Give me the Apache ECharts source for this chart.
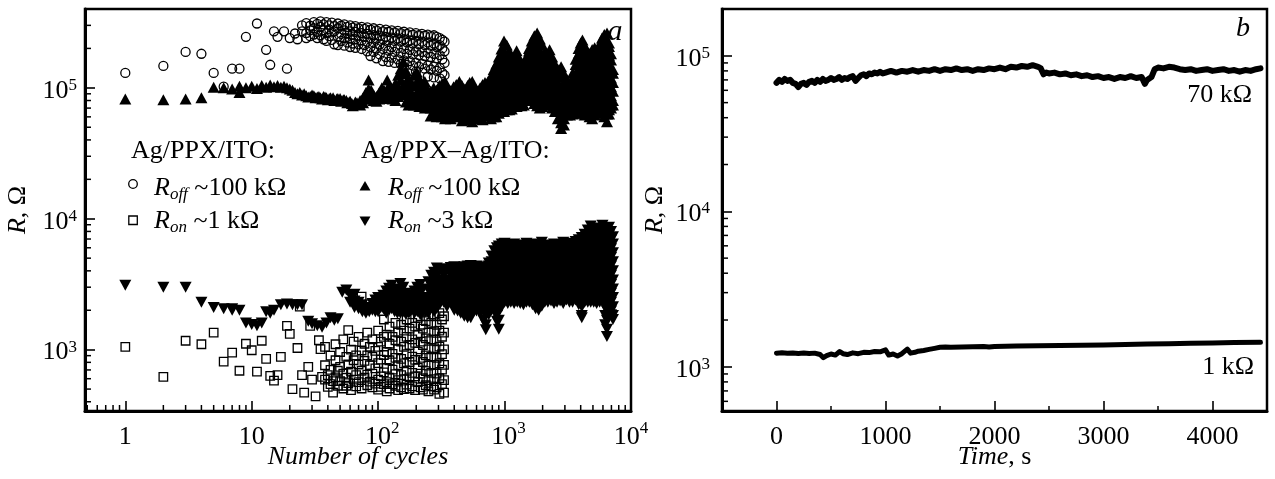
<!DOCTYPE html>
<html><head><meta charset="utf-8">
<script src="https://cdn.jsdelivr.net/npm/echarts@6/dist/echarts.min.js"></script>
<style>html,body{margin:0;padding:0;background:#fff}#c{width:1275px;height:479px}</style>
</head><body><div id="c"></div>
<script>
// ---------------- DATA (panel a) ----------------
// Ag/PPX/ITO R_off (kOhm): single points then columns [N, R1, R2, ...]
const offA_pts = [[1,130],[2,147],[3,188],[4,182],[5,130],[6,102],[7,140],[8,140],[9,245],[11,310],[13,195],[14,150],[15,270],[16,245],[18,270],[19,140],[20,240],[22,260],[23,235]];
const offA_cols = [
 [25,300,270],[27,312,262,240],[29,298,275,248],[31,318,285,255],[33,308,268,240],[35,322,292,252],
 [37,305,275,235],[39,318,262,228],[41,300,280,248],[43,315,265,232],[45,296,270,215],[48,310,285,245,212],
 [51,298,258,228],[54,305,275,240,210],[57,292,262,222],[60,300,270,238,205],[63,288,255,218],[66,296,268,235,202],
 [70,285,250,215],[74,292,262,230,198],[78,282,245,212],[82,290,258,225,190],[87,278,240,205,175],[92,285,252,222,188],
 [97,275,238,200,168],[103,282,250,215,180],[109,270,235,198,160],[115,278,245,210,172],[121,268,230,192,158],
 [128,275,242,205,170],[135,265,228,188,155],[143,272,238,200,165],[151,262,225,185,152],[160,268,235,198,162],
 [169,258,222,182,150],[178,265,230,195,160,100],[188,255,218,180,148],[199,262,228,190,155,133],[210,252,215,178,145],
 [222,258,225,188,152],[234,250,212,175,140],[247,255,222,185,148,122],[261,248,210,172,138],[276,252,218,182,145,120],
 [291,245,205,168,135],[307,240,212,178,142,118],[322,232,200,165,130],[335,225,190,155,125]
];
// Ag/PPX/ITO R_on (Ohm)
const onA_pts = [[1,1050],[2,620],[3,1170],[4,1100],[5,1350],[6,810],[7,950],[8,690],[9,1110],[10,990],[11,680],[12,1170],[13,850],[14,630],[15,580],[16,640],[17,880],[19,1520],[20,1320],[21,500],[23,1030],[24,2130],[25,640],[26,470],[28,740],[29,1520],[30,590],[32,440],[34,1180],[35,1010],[36,620]];
const onA_cols = [
 [38,1050,760,590],[40,640,520],[42,900,700,545],[44,575,470],[46,1100,830,615],[48,690,530],[50,960,740,575],
 [53,1200,655,505],[56,880,610,530],[58,1410,770,555],[61,1000,680,490],[64,1150,830,590],[67,905,640,525],
 [70,1250,770,565],[74,2540,985,690,505],[78,1110,820,610],[82,1350,905,645,535],[86,1050,760,570],
 [90,1200,880,655,515],[95,980,720,550],[100,1400,1050,790,590,495],[105,1150,840,625,520],[111,1700,1250,910,670,545],
 [117,1300,960,725,565,480],[123,1500,1110,830,610,505],[130,1250,930,705,545],[137,1600,1180,865,650,530],
 [144,1350,1005,760,585,490],[152,1550,1150,850,640,515],[160,1400,1050,785,595,500],[168,1700,1250,925,690,540],
 [177,1450,1085,805,615,505],[186,2200,1600,1200,885,665,525],[196,1500,1125,835,625,490],[206,1750,1300,965,725,565],
 [217,1550,1150,865,655,515],[226,1950,1450,1085,805,605,495],[238,1650,1220,905,685,535],[250,1800,1350,1005,755,585,480],
 [263,1600,1200,885,665,525],[277,1850,1380,1025,765,595,495],[290,1550,1155,865,655,515],[305,1900,1400,1055,785,605,460],
 [320,1700,1255,925,705,545],[332,1800,1350,1005,765,585,470]
];
// Ag/PPX-Ag/ITO R_off (kOhm)
const offB_pts = [[1,82],[2,81],[3,82],[4,84],[5,101],[6,100],[7,98],[8,92],[8,103],[9,100],[10,103],[11,99],[12,104],[13,101],[14,105],[15,102],[16,104],[17,101],[18,103],[19,100],[20,98],[21,96],[22,92],[23,90],[24,92],[25,88],[26,90],[27,87],[28,85],[29,86],[30,88],[31,87],[32,84],[33,85],[34,86],[35,84],[36,82],[37,86],[38,85],[39,84],[40,81],[41,83],[42,84],[44,84],[45,80],[47,82],[48,83],[50,83],[51,79],[53,81],[54,81],[56,80],[57,77],[59,78],[60,79],[62,76],[63,73],[65,75],[66,78],[68,77]];
const offB_cols = [
 [72,80,74],[76,84,77],[80,92,82],[84,115,98,84],[88,96,82],[92,88,80],[97,86,79],[102,92,82],[107,100,86],
 [112,95,83],[118,115,98,84],[124,102,86],[130,94,82],[137,108,90,80],[144,125,102,86],[151,140,115,95],
 [158,158,128,104,88],[166,135,110,92,78],[174,118,98,82,74],[183,108,92,78],[192,125,104,86,74],
 [202,132,110,92,78],[212,118,98,82,72],[223,105,90,76],[234,112,95,80,70],[246,98,84,72],
 [260,94,82,70,61],[275,100,89,76,65],[290,96,82,70,60],[305,104,89,76,65],[320,108,96,82,70,60],
 [338,112,104,89,76,65,58],[355,100,96,82,70,62],[375,95,89,76,65,58],[395,102,96,82,70,60],[415,106,104,89,76,65],
 [439,112,96,82,70,60],[460,104,89,76,65,56],[485,98,96,82,70,61],[510,104,89,76,65,57],[530,110,96,82,70,60],
 [555,112,104,89,76,65,55],[580,100,96,82,70,60],[610,94,89,76,65,58],[640,100,96,82,70,60],[670,106,104,89,76,65,57],
 [700,110,96,82,70,61],
 [740,112,102,87,74,62],[780,122,110,94,80,68,58],[820,138,119,102,87,74,60],[860,152,129,110,94,80,68,60],
 [900,172,163,139,119,102,87,74,64],[945,198,177,151,129,110,94,80,68],[990,228,191,163,139,119,102,87,74,66],
 [1040,212,177,151,129,110,94,80,68],[1090,190,163,139,119,102,87,74,68],[1140,172,151,129,110,94,80,69],
 [1190,165,139,119,102,87,74],[1245,192,177,151,129,110,94,80,72],[1300,170,139,119,102,87,74],
 [1360,155,129,110,94,80,73],[1420,150,139,119,102,87,74],[1490,172,151,129,110,94,80],
 [1560,200,191,163,139,119,102,87,80],[1640,228,207,177,151,129,110,94,80],[1720,250,224,191,163,139,119,102,87,76],
 [1810,262,242,207,177,151,129,110,94,80,73],[1900,236,224,191,163,139,119,102,87,74,70],[1990,212,177,151,129,110,94,80,72],
 [2090,188,163,139,119,102,87,74],[2180,180,151,129,110,94,80,74],[2270,195,163,139,119,102,87,75],
 [2380,172,151,129,110,94,80,70],[2500,152,139,119,102,87,74,66],[2640,138,129,110,94,80,68,58],
 [2800,145,121,102,87,74,63,54,49],[2950,128,110,94,80,68,58,52],[3110,116,102,87,74,62],[3290,106,94,80,68,62],
 [3460,130,119,102,87,74,63],[3650,165,151,129,110,94,80,68],[3850,200,182,163,139,119,102,87,74,66],
 [4000,220,207,177,151,129,110,94,80,68,64],[4130,232,191,163,139,119,102,87,74,64],[4300,210,177,151,129,110,94,80,68,62],
 [4500,190,163,139,119,102,87,74,63],[4700,182,166,151,129,110,94,80,68,60],[4930,196,178,163,139,119,102,87,74,63,58],
 [5160,202,177,151,129,110,94,80,68,62],[5400,186,163,139,119,102,87,74,64],[5650,215,195,177,151,129,110,94,80,68],
 [5900,240,224,191,163,139,119,102,87,74,64],[6150,255,242,207,177,151,129,110,94,80,68,60],
 [6460,262,224,191,163,139,119,102,87,74,63,55],[6700,220,207,177,151,129,110,94,80,68,63],
 [6950,182,163,139,119,102,87,74,70],[7200,138,129,110,94,80,74]
];
// Ag/PPX-Ag/ITO R_on (Ohm)
const onB_pts = [[1,3100],[2,3000],[3,3000],[4,2300],[5,2100],[6,2050],[7,2000],[7,2050],[8,2000],[9,1600],[10,1560],[11,1520],[12,1600],[13,1950],[14,1900],[15,2000],[17,2200],[19,2230],[21,2200],[23,2200],[25,2200],[28,1650],[30,1580],[33,1520],[36,1480],[39,1600],[42,1750],[45,1680],[48,1720],[52,2750],[56,2850]];
const onB_cols = [
 [60,2600,2300],[65,2650,2350,2100],[70,2300,2050],[75,2200,1950],[80,2050,1900],[85,2100,1950],[90,2250,2000],
 [95,2400,2150,1950],[100,2500,2200,1950],[105,2350,2100],[110,2600,2300,2050],[116,2800,2450,2150,1900],
 [122,2950,2600,2250,2000],[128,3100,2700,2350,2050],[135,2900,2550,2200,1950],[142,2800,2450,2150,1900],
 [150,3200,2800,2450,2150,1900],[158,3000,2600,2250,1950],[166,2700,2350,2050,1850],[175,2450,2150,1900],
 [184,2600,2300,2000],[194,2800,2450,2150,1900],[204,3000,2600,2250,1950],[215,3150,2750,2400,2100,1850],
 [226,2900,2500,2200,1950],[238,2500,2200,1950],[250,3300,2850,2450,2150,1900],[263,3700,3200,2750,2400,2100],
 [277,3900,3400,2950,2550,2200,1950],[291,4200,3650,3150,2750,2350,2050],
 [310,4150,3400,2900,2500,2250],[330,4000,3700,3150,2700,2300],[350,4100,3400,2900,2500,2130],
 [375,4250,3700,3150,2700,2300],[400,4300,4000,3400,2900,2500,2130,2000],[425,4150,3700,3150,2700,2300,1970],
 [450,4200,4000,3400,2900,2500,2130,1900],[480,4300,3700,3150,2700,2300,1970,1800],[510,4350,4000,3400,2900,2500,2130,1820,1750],
 [540,4400,3700,3150,2700,2300,1970,1750],[570,4250,4000,3400,2900,2500,2130,1950],[600,4350,3700,3150,2700,2300,1970],
 [640,4200,4000,3400,2900,2500,2130,1900],[680,4100,3700,3150,2700,2300,1970,1680],[710,4300,4000,3400,2900,2500,2130,1820,1550,1420],
 [750,4600,4350,3700,3150,2700,2300,1970,1850],[790,5200,4700,4000,3400,2900,2500,2130,2000],
 [830,5700,5050,4350,3700,3150,2700,2300,1970],[870,6000,5500,4700,4000,3400,2900,2500,2130,1820,1650],
 [900,6200,5900,5050,4350,3700,3150,2700,2300,1970,1680,1430],[950,6400,5500,4700,4000,3400,2900,2500,2130],
 [1000,6500,5900,5050,4350,3700,3150,2700,2300],[1060,6300,5500,4700,4000,3400,2900,2500,2250],
 [1120,6100,5900,5050,4350,3700,3150,2700,2300],[1190,6400,5500,4700,4000,3400,2900,2500,2250],
 [1260,6200,5900,5050,4350,3700,3150,2700,2300],[1330,6000,5500,4700,4000,3400,2900,2500,2250],
 [1410,6300,5900,5050,4350,3700,3150,2700,2300,2200],[1490,6500,5500,4700,4000,3400,2900,2500,2300],
 [1570,6200,5900,5050,4350,3700,3150,2700,2300],[1660,6400,5500,4700,4000,3400,2900,2500,2200],
 [1760,6100,5900,5050,4350,3700,3150,2700,2300,2050],[1860,6300,5500,4700,4000,3400,2900,2500,2130,2000],
 [1970,6600,5900,5050,4350,3700,3150,2700,2300,2150],[2080,6300,5500,4700,4000,3400,2900,2500,2300],
 [2200,6000,5050,4350,3700,3150,2700,2300],[2330,6200,5500,4700,4000,3400,2900,2500,2350],
 [2460,6400,5900,5050,4350,3700,3150,2700,2300,2250],[2600,6100,5500,4700,4000,3400,2900,2500,2300],
 [2750,6300,5900,5050,4350,3700,3150,2700,2350],[2910,6600,5500,4700,4000,3400,2900,2500,2250],
 [3080,6400,5900,5050,4350,3700,3150,2700,2400],[3260,6200,5500,4700,4000,3400,2900,2500,2300],
 [3450,6500,5900,5050,4350,3700,3150,2700,2300],[3650,6700,6400,5500,4700,4000,3400,2900,2500,2400],
 [3860,6900,5900,5050,4350,3700,3150,2700,2300,2200],[4080,7200,6400,5500,4700,4000,3400,2900,2500,2130,1820,1750],
 [4300,7600,6900,5900,5050,4350,3700,3150,2700,2300],[4550,8200,7500,6400,5500,4700,4000,3400,2900,2500,2300],
 [4800,8800,8100,6900,5900,5050,4350,3700,3150,2700,2300],[5070,8400,7500,6400,5500,4700,4000,3400,2900,2500,2300],
 [5350,7800,6900,5900,5050,4350,3700,3150,2700,2300,2250],[5650,8500,7500,6400,5500,4700,4000,3400,2900,2500,2300],
 [5950,8900,8100,6900,5900,5050,4350,3700,3150,2700,2300],[6250,8300,7500,6400,5500,4700,4000,3400,2900,2500,2130,1820,1550],
 [6450,7900,6900,5900,5050,4350,3700,3150,2700,2300,1970,1680,1430,1260],[6700,8600,7500,6400,5500,4700,4000,3400,2900,2500,2130],
 [6950,8000,6900,5900,5050,4350,3700,3150,2700,2300,1970,1850],[7200,7300,6400,5500,4700,4000,3400,2900,2500,2130,1820,1700]
];
// ---------------- DATA (panel b) ----------------
const timeHi = [0,25,50,75,100,125,150,175,200,225,250,275,300,325,350,375,400,425,450,475,500,525,550,575,600,625,650,675,700,725,750,775,800,825,850,875,900,925,950,975,1000,1050,1100,1150,1200,1250,1300,1350,1400,1450,1500,1550,1600,1650,1700,1750,1800,1850,1900,1950,2000,2050,2100,2150,2200,2250,2300,2350,2400,2425,2450,2475,2500,2550,2600,2650,2700,2750,2800,2850,2900,2950,3000,3050,3100,3150,3200,3250,3300,3350,3380,3400,3440,3470,3500,3550,3600,3650,3700,3750,3800,3850,3900,3950,4000,4050,4100,4150,4200,4250,4300,4350,4400,4440];
const rHi_kOhm = [67,70,68,71,69,70,67,66,63,66,67,65,68,69,67,70,68,71,69,70,72,70,71,73,70,72,71,73,74,69,72,75,76,74,77,76,78,77,79,77,78,80,78,80,79,81,79,81,80,82,80,82,81,83,81,82,80,82,81,83,82,84,82,85,84,86,85,87,85,83,76,78,77,78,76,77,75,76,74,75,73,74,72,73,71,73,72,74,72,73,66,70,73,82,84,83,85,84,82,81,82,80,81,82,80,81,82,80,81,79,81,80,82,83];
const timeLo = [0,50,100,150,200,250,300,350,400,430,460,500,540,580,610,650,700,750,800,850,900,950,1000,1030,1070,1110,1150,1200,1230,1270,1300,1350,1400,1450,1500,1550,1600,1700,1800,1900,1950,2000,2100,2200,2400,2600,2800,3000,3200,3400,3600,3800,4000,4200,4440];
const rLo_Ohm = [1225,1230,1222,1228,1220,1226,1218,1225,1200,1145,1180,1210,1190,1255,1215,1200,1230,1215,1240,1235,1255,1250,1285,1190,1210,1175,1215,1300,1225,1240,1260,1275,1295,1315,1335,1340,1338,1342,1346,1350,1340,1352,1355,1360,1364,1370,1375,1382,1390,1402,1410,1418,1425,1432,1440];
// ---------------- TICKS ----------------
const xMinorA = [0.5,0.6,0.7,0.8,0.9,2,3,4,5,6,7,8,9,20,30,40,50,60,70,80,90,200,300,400,500,600,700,800,900,2000,3000,4000,5000,6000,7000,8000,9000];
const yMinorA = [400,500,600,700,800,900,2000,3000,4000,5000,6000,7000,8000,9000,20000,30000,40000,50000,60000,70000,80000,90000,200000,300000];
const xMinorB = [500,1500,2500,3500];
const yMinorB = [600,700,800,900,2000,3000,4000,5000,6000,7000,8000,9000,20000,30000,40000,50000,60000,70000,80000,90000];

// ---------------- BUILD ----------------
const F = '"Liberation Serif","Times New Roman",serif';
function build(pts, cols, unit) {
  const out = pts.map(p => [p[0], p[1] * unit]);
  cols.forEach(c => { for (let i = 1; i < c.length; i++) out.push([c[0], c[i] * unit]); });
  return out;
}
const dOffA = build(offA_pts, offA_cols, 1000);
const dOnA = build(onA_pts, onA_cols, 1);
const dOffB = build(offB_pts, offB_cols, 1000);
const dOnB = build(onB_pts, onB_cols, 1);
const dHi = timeHi.map((t, i) => [t, rHi_kOhm[i] * 1000]);
const dLo = timeLo.map((t, i) => [t, rLo_Ohm[i]]);

const richX = {
  m: {fontFamily: F, fontSize: 26, lineHeight: 34, color: '#000'},
  s: {fontFamily: F, fontSize: 17, lineHeight: 17, verticalAlign: 'top', color: '#000'},
  p: {width: 8, fontSize: 17}
};
const richY = {
  m: {fontFamily: F, fontSize: 26, lineHeight: 34, padding: [6, 0, 0, 0], color: '#000'},
  s: {fontFamily: F, fontSize: 17, lineHeight: 17, padding: [6, 0, 0, 0], verticalAlign: 'top', color: '#000'}
};
function logLabelX(v) {
  const e = Math.round(Math.log10(v));
  if (e === 0) return '{m|1}';
  if (e === 1) return '{m|10}';
  if (e === 4) return '{m|10}{s|' + e + '}';
  return '{p| }{m|10}{s|' + e + '}';
}
function logLabelY(v) {
  const e = Math.round(Math.log10(v));
  return '{m|10}{s|' + e + '}';
}
const nameRich = {
  i: {fontFamily: F, fontSize: 26, fontStyle: 'italic', color: '#000'},
  n: {fontFamily: F, fontSize: 26, color: '#000'}
};
function axisBase() {
  return {
    axisLine: {show: true, onZero: false, lineStyle: {color: '#000', width: 3}},
    axisTick: {show: true, inside: true, length: 10, lineStyle: {color: '#000', width: 1.6}},
    splitLine: {show: false},
    minorTick: {show: false},
    minorSplitLine: {show: false},
    nameMoveOverlap: false
  };
}
function minorTicks(gi, vals, dir, edge, len) {
  return {
    type: 'custom', xAxisIndex: gi, yAxisIndex: gi, silent: true, z: 5, clip: false,
    data: vals.map(v => dir === 'x' ? [v, edge] : [edge, v]),
    renderItem: (params, api) => {
      const p = api.coord([api.value(0), api.value(1)]);
      const shape = dir === 'x' ? {x1: p[0], y1: p[1], x2: p[0], y2: p[1] - len}
                                : {x1: p[0], y1: p[1], x2: p[0] + len, y2: p[1]};
      return {type: 'line', shape: shape, style: {stroke: '#000', lineWidth: 1.5}};
    }
  };
}
function legendText(x, y, sub, rest) {
  return {type: 'text', x: x, y: y, style: {text: '{i|R}{s|' + sub + '}{n|' + rest + '}', align: 'left', verticalAlign: 'middle', rich: {
    i: {fontFamily: F, fontSize: 26, fontStyle: 'italic', lineHeight: 30, fill: '#000'},
    s: {fontFamily: F, fontSize: 17, fontStyle: 'italic', lineHeight: 17, verticalAlign: 'bottom', fill: '#000'},
    n: {fontFamily: F, fontSize: 26, lineHeight: 30, fill: '#000'}}}};
}

const chart = echarts.init(document.getElementById('c'), null, {renderer: 'canvas'});
const hollow = {color: 'rgba(0,0,0,0)', borderColor: '#000', borderWidth: 1.3, opacity: 1};
const solid = {color: '#000', opacity: 1};
chart.setOption({
  animation: false,
  backgroundColor: '#fff',
  grid: [
    {left: 85, top: 9, width: 546, height: 402, show: true, borderColor: '#000', borderWidth: 2.5, backgroundColor: 'transparent', containLabel: false},
    {left: 722, top: 9, width: 545, height: 402, show: true, borderColor: '#000', borderWidth: 2.5, backgroundColor: 'transparent', containLabel: false}
  ],
  xAxis: [
    Object.assign(axisBase(), {
      gridIndex: 0, type: 'log', logBase: 10, min: 0.48, max: 10000,
      axisLabel: {formatter: logLabelX, rich: richX, margin: 9, showMinLabel: false, showMaxLabel: true},
      name: 'Number of cycles', nameLocation: 'middle', nameGap: 33,
      nameTextStyle: {fontFamily: F, fontSize: 26, fontStyle: 'italic', color: '#000'}
    }),
    Object.assign(axisBase(), {
      gridIndex: 1, type: 'value', min: -500, max: 4500, splitNumber: 5,
      axisLabel: {formatter: v => '{m|' + v + '}', rich: richX, margin: 9, showMinLabel: false, showMaxLabel: false},
      name: '{i|Time}{n|, s}', nameLocation: 'middle', nameGap: 33,
      nameTextStyle: {rich: nameRich}
    })
  ],
  yAxis: [
    Object.assign(axisBase(), {
      gridIndex: 0, type: 'log', logBase: 10, min: 340, max: 400000,
      axisLabel: {formatter: logLabelY, rich: richY, margin: 8, showMinLabel: false, showMaxLabel: false},
      name: '{i|R}{n|, Ω}', nameLocation: 'middle', nameGap: 54,
      nameTextStyle: {rich: nameRich}
    }),
    Object.assign(axisBase(), {
      gridIndex: 1, type: 'log', logBase: 10, min: 520, max: 200000,
      axisLabel: {formatter: logLabelY, rich: richY, margin: 12, showMinLabel: false, showMaxLabel: false},
      name: '{i|R}{n|, Ω}', nameLocation: 'middle', nameGap: 54,
      nameTextStyle: {rich: nameRich}
    })
  ],
  series: [
    {type: 'scatter', xAxisIndex: 0, yAxisIndex: 0, data: dOffB, symbol: 'triangle', symbolSize: [12, 11], itemStyle: solid, silent: true},
    {type: 'scatter', xAxisIndex: 0, yAxisIndex: 0, data: dOnB, symbol: 'triangle', symbolRotate: 180, symbolSize: [12, 11], itemStyle: solid, silent: true},
    {type: 'scatter', xAxisIndex: 0, yAxisIndex: 0, data: dOffA, symbol: 'circle', symbolSize: 9, itemStyle: hollow, silent: true},
    {type: 'scatter', xAxisIndex: 0, yAxisIndex: 0, data: dOnA, symbol: 'rect', symbolSize: 8.5, itemStyle: hollow, silent: true},
    {type: 'line', xAxisIndex: 1, yAxisIndex: 1, data: dHi, showSymbol: false, symbol: 'none', lineStyle: {color: '#000', width: 6, join: 'round', cap: 'round'}, silent: true},
    {type: 'line', xAxisIndex: 1, yAxisIndex: 1, data: dLo, showSymbol: false, symbol: 'none', lineStyle: {color: '#000', width: 5, join: 'round', cap: 'round'}, silent: true},
    minorTicks(0, xMinorA, 'x', 340, 6),
    minorTicks(0, yMinorA, 'y', 0.48, 6),
    minorTicks(1, xMinorB, 'x', 520, 5),
    minorTicks(1, yMinorB, 'y', -500, 6)
  ],
  graphic: [
    {type: 'text', x: 615, y: 32, style: {text: 'a', fontFamily: F, fontSize: 30, fontStyle: 'italic', fill: '#000', align: 'center', verticalAlign: 'middle'}},
    {type: 'text', x: 1243, y: 29, style: {text: 'b', fontFamily: F, fontSize: 28, fontStyle: 'italic', fill: '#000', align: 'center', verticalAlign: 'middle'}},
    {type: 'text', x: 1252, y: 95, style: {text: '70 kΩ', fontFamily: F, fontSize: 26, fill: '#000', align: 'right', verticalAlign: 'middle'}},
    {type: 'text', x: 1254, y: 367, style: {text: '1 kΩ', fontFamily: F, fontSize: 26, fill: '#000', align: 'right', verticalAlign: 'middle'}},
    {type: 'text', x: 131, y: 151, style: {text: 'Ag/PPX/ITO:', fontFamily: F, fontSize: 26, fill: '#000', align: 'left', verticalAlign: 'middle'}},
    {type: 'text', x: 361, y: 151, style: {text: 'Ag/PPX–Ag/ITO:', fontFamily: F, fontSize: 26, fill: '#000', align: 'left', verticalAlign: 'middle'}},
    {type: 'circle', shape: {cx: 133, cy: 184, r: 4.3}, style: {fill: 'none', stroke: '#000', lineWidth: 1.3}},
    {type: 'rect', shape: {x: 128.8, y: 216, width: 8.5, height: 8.5}, style: {fill: 'none', stroke: '#000', lineWidth: 1.3}},
    {type: 'polygon', shape: {points: [[365, 181], [359.5, 190.5], [370.5, 190.5]]}, style: {fill: '#000'}},
    {type: 'polygon', shape: {points: [[359.5, 216.5], [370.5, 216.5], [365, 226]]}, style: {fill: '#000'}},
    legendText(154, 188, 'off', ' ~100 kΩ'),
    legendText(154, 221, 'on', ' ~1 kΩ'),
    legendText(388, 188, 'off', ' ~100 kΩ'),
    legendText(388, 221, 'on', ' ~3 kΩ')
  ]
});
</script></body></html>
